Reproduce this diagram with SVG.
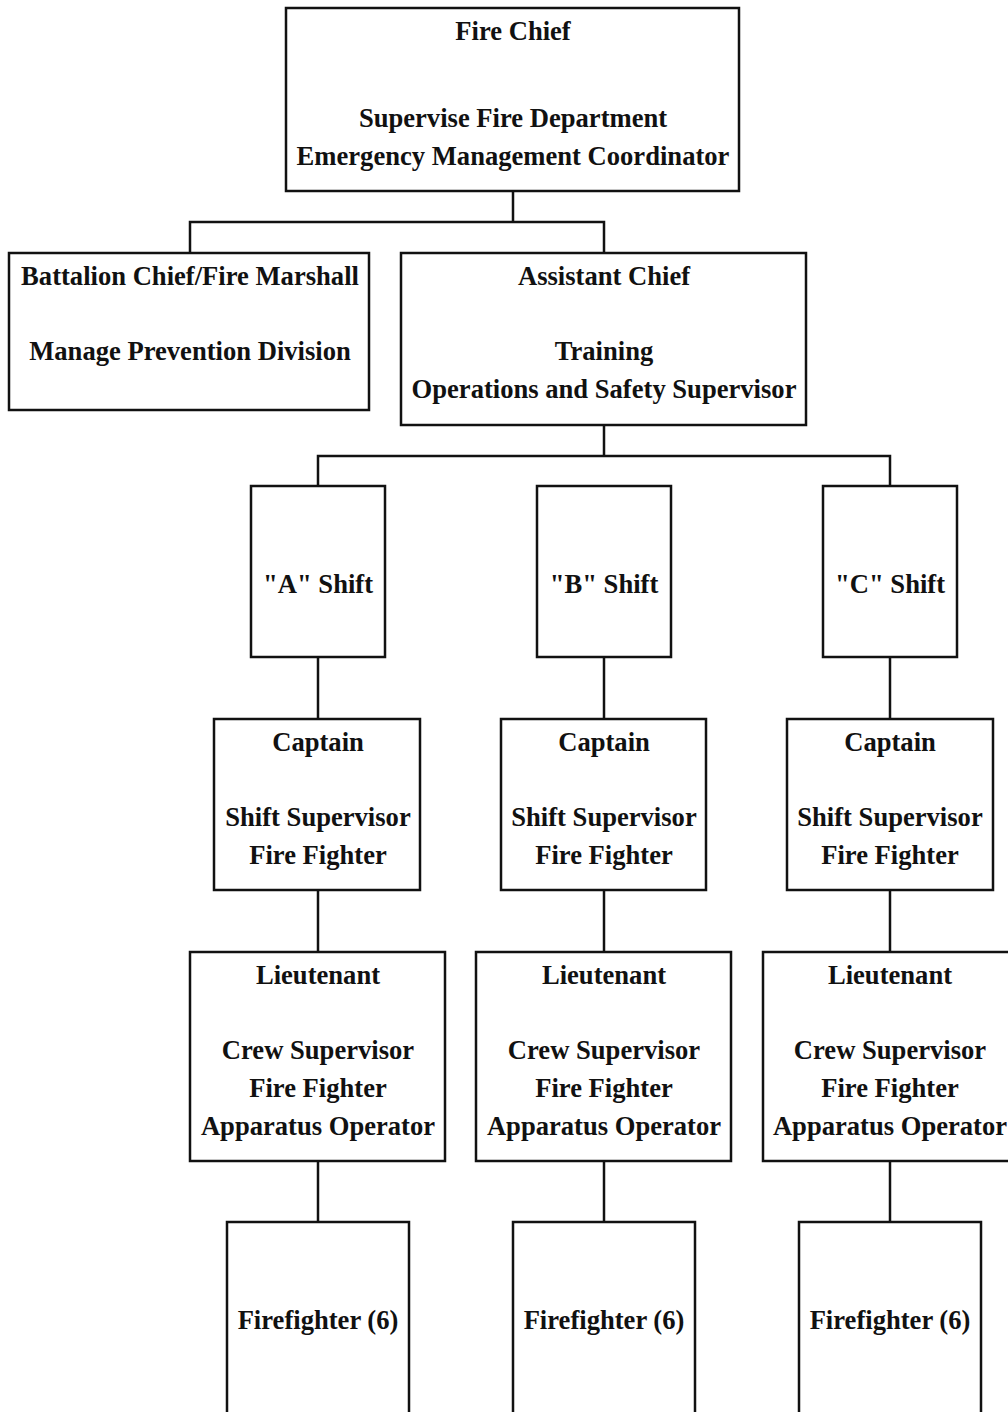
<svg xmlns="http://www.w3.org/2000/svg" width="1008" height="1412" viewBox="0 0 1008 1412">
<style>
rect{fill:#fff;stroke:#111;stroke-width:2.5}
.c line,.c path{stroke:#111;stroke-width:2.5;fill:none}
text{font-family:"Liberation Serif","Times New Roman",serif;font-weight:bold;font-size:26.6px;fill:#111;text-anchor:middle}
</style>
<rect x="0" y="0" width="1008" height="1412" style="stroke:none"/>
<g class="c" id="connectors">
<path d="M513 191V222M190 253V222H604V253"/>
<path d="M604 425V456M318 486V456H890V486"/>
<line x1="318" y1="657" x2="318" y2="719"/>
<line x1="604" y1="657" x2="604" y2="719"/>
<line x1="890" y1="657" x2="890" y2="719"/>
<line x1="318" y1="890" x2="318" y2="952"/>
<line x1="604" y1="890" x2="604" y2="952"/>
<line x1="890" y1="890" x2="890" y2="952"/>
<line x1="318" y1="1161" x2="318" y2="1222"/>
<line x1="604" y1="1161" x2="604" y2="1222"/>
<line x1="890" y1="1161" x2="890" y2="1222"/>
</g>
<g id="fire-chief"><rect x="286" y="8" width="453" height="183"/>
<text x="513" y="40">Fire Chief</text><text x="513" y="127">Supervise Fire Department</text><text x="513" y="165">Emergency Management Coordinator</text></g>
<g id="battalion-chief"><rect x="9" y="253" width="360" height="157"/>
<text x="190" y="285">Battalion Chief/Fire Marshall</text><text x="190" y="360">Manage Prevention Division</text></g>
<g id="assistant-chief"><rect x="401" y="253" width="405" height="172"/>
<text x="604" y="285">Assistant Chief</text><text x="604" y="360">Training</text><text x="604" y="398">Operations and Safety Supervisor</text></g>
<g id="shift-a"><rect x="251" y="486" width="134" height="171"/><text x="318" y="593">"A" Shift</text></g>
<g id="shift-b"><rect x="537" y="486" width="134" height="171"/><text x="604" y="593">"B" Shift</text></g>
<g id="shift-c"><rect x="823" y="486" width="134" height="171"/><text x="890" y="593">"C" Shift</text></g>
<g id="captain-a"><rect x="214" y="719" width="206" height="171"/><text x="318" y="751">Captain</text><text x="318" y="826">Shift Supervisor</text><text x="318" y="864">Fire Fighter</text></g>
<g id="captain-b"><rect x="501" y="719" width="205" height="171"/><text x="604" y="751">Captain</text><text x="604" y="826">Shift Supervisor</text><text x="604" y="864">Fire Fighter</text></g>
<g id="captain-c"><rect x="787" y="719" width="206" height="171"/><text x="890" y="751">Captain</text><text x="890" y="826">Shift Supervisor</text><text x="890" y="864">Fire Fighter</text></g>
<g id="lieutenant-a"><rect x="190" y="952" width="255" height="209"/><text x="318" y="984">Lieutenant</text><text x="318" y="1059">Crew Supervisor</text><text x="318" y="1097">Fire Fighter</text><text x="318" y="1135">Apparatus Operator</text></g>
<g id="lieutenant-b"><rect x="476" y="952" width="255" height="209"/><text x="604" y="984">Lieutenant</text><text x="604" y="1059">Crew Supervisor</text><text x="604" y="1097">Fire Fighter</text><text x="604" y="1135">Apparatus Operator</text></g>
<g id="lieutenant-c"><rect x="763" y="952" width="255" height="209"/><text x="890" y="984">Lieutenant</text><text x="890" y="1059">Crew Supervisor</text><text x="890" y="1097">Fire Fighter</text><text x="890" y="1135">Apparatus Operator</text></g>
<g id="firefighter-a"><rect x="227" y="1222" width="182" height="200"/><text x="318" y="1329">Firefighter (6)</text></g>
<g id="firefighter-b"><rect x="513" y="1222" width="182" height="200"/><text x="604" y="1329">Firefighter (6)</text></g>
<g id="firefighter-c"><rect x="799" y="1222" width="182" height="200"/><text x="890" y="1329">Firefighter (6)</text></g>
</svg>
